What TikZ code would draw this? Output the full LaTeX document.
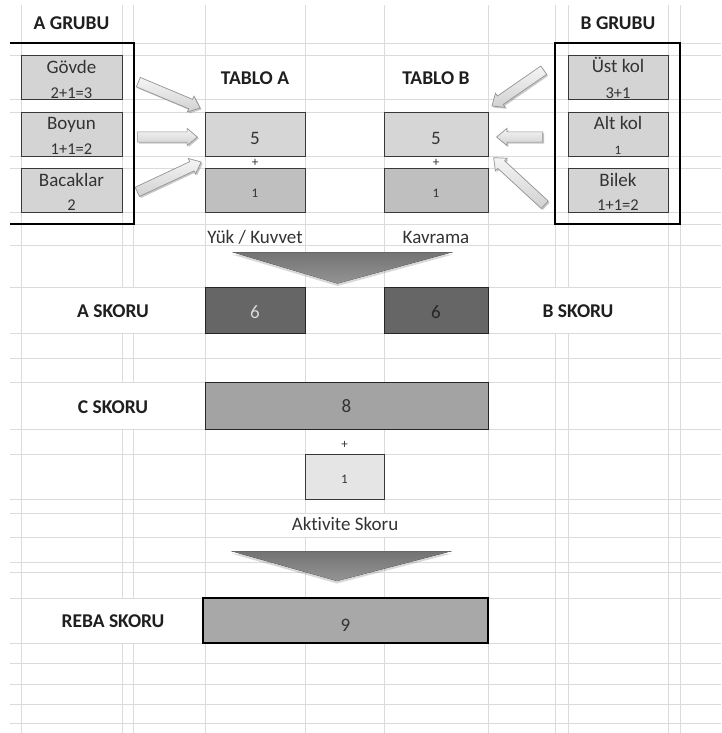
\documentclass[tikz,border=0pt]{standalone}
\usepackage{fontspec}
\setmainfont{Carlito}[Ligatures=CommonOff]
\usetikzlibrary{shapes.arrows,shadows}
\begin{document}
\begin{tikzpicture}[x=1pt,y=-1pt,
  grid/.style={draw=black!14, line width=0.9pt},
  lbl/.style={font=\fontsize{19.5}{21}\selectfont\bfseries, text=black!88, anchor=base, inner sep=0},
  txt/.style={font=\fontsize{19}{21}\selectfont, text=black!80, anchor=base, inner sep=0},
  sub/.style={font=\fontsize{16.5}{18}\selectfont, text=black!80, anchor=base, inner sep=0},
  small/.style={font=\fontsize{13}{14}\selectfont, text=black!80, anchor=base, inner sep=0},
  cell/.style={draw=black!78, line width=0.9pt, inner sep=0},
  grp/.style={draw=black, line width=2pt},
  barrow/.style={single arrow, draw=black!42, top color=black!4, bottom color=black!18,
    inner sep=0pt, minimum width=17pt, single arrow head extend=3.5pt,
    single arrow tip angle=80, line width=0.7pt, anchor=tail,
    drop shadow={shadow xshift=1.5pt, shadow yshift=-1.5pt, opacity=0.3, fill=black!70}},
  chev/.style={top color=black!55, bottom color=black!42, draw=none,
    drop shadow={shadow xshift=0pt, shadow yshift=-2.5pt, opacity=0.25, fill=black!60}},
]
\fill[white] (0,0) rectangle (721,733);
\useasboundingbox (0,0) rectangle (721,733);

% grid
\foreach \yy in {43,55,99,112,156,168,212,224,245,287,333,358,382.5,429,454,499,513,537,562,572,598,643,663,684,704,723}
  \draw[grid] (10,\yy) -- (721,\yy);
\foreach \xx in {21,122,133.5,205,305,384,488,555.5,568,668,680}
  \draw[grid] (\xx,5) -- (\xx,733);

% merged cells hiding grid lines
\fill[white] (21.5,287.5) rectangle (204.5,332.5);
\fill[white] (488.5,287.5) rectangle (667.5,332.5);
\fill[white] (21.5,383) rectangle (204.5,428.5);
\fill[white] (21.5,598.5) rectangle (202.5,642.5);
\fill[white] (205.5,513.5) rectangle (487.5,536.5);
\fill[white] (21.5,5) rectangle (121.5,42.5);
\fill[white] (568.5,5) rectangle (667.5,42.5);

% group frames
\draw[grp] (10,43) -- (133.5,43) -- (133.5,224) -- (10,224);
\node[grp, minimum width=124.5pt, minimum height=181pt, inner sep=0] (bgrp) at (617.25,133.5) {};

% A group boxes
\node[cell, fill=black!17, minimum width=101pt, minimum height=44pt] (govde) at (71.5,77) {};
\node[cell, fill=black!17, minimum width=101pt, minimum height=44pt] (boyun) at (71.5,134) {};
\node[cell, fill=black!17, minimum width=101pt, minimum height=44pt] (bacak) at (71.5,190) {};
% B group boxes
\node[cell, fill=black!17, minimum width=100pt, minimum height=44pt] (ustkol) at (618,77) {};
\node[cell, fill=black!17, minimum width=100pt, minimum height=44pt] (altkol) at (618,134) {};
\node[cell, fill=black!17, minimum width=100pt, minimum height=44pt] (bilek) at (618,190) {};
% tables
\node[cell, fill=black!16, minimum width=100pt, minimum height=44pt] (ta5) at (255,134) {};
\node[cell, fill=black!25, minimum width=100pt, minimum height=44pt] (ta1) at (255,190) {};
\node[cell, fill=black!16, minimum width=104pt, minimum height=44pt] (tb5) at (436,134) {};
\node[cell, fill=black!25, minimum width=104pt, minimum height=44pt] (tb1) at (436,190) {};
% scores
\node[cell, draw=black!85, fill=black!60, minimum width=100pt, minimum height=46pt] (as6) at (255,310) {};
\node[cell, draw=black!85, fill=black!60, minimum width=104pt, minimum height=46pt] (bs6) at (436,310) {};
\node[cell, draw=black!85, fill=black!36, minimum width=283pt, minimum height=46.5pt] (c8) at (346.5,405.75) {};
\node[cell, fill=black!10, minimum width=79pt, minimum height=45pt] (act1) at (344.5,476.5) {};
\node[cell, draw=black, line width=2pt, fill=black!34, minimum width=285pt, minimum height=45.5pt] (reba9) at (345.5,620.25) {};

% chevrons
\fill[chev] (232,252) -- (453,252) -- (337.5,283.5) -- cycle;
\draw[black!60, line width=1pt] (233,252.5) -- (452,252.5);
\fill[chev] (231,551) -- (452,551) -- (337,581) -- cycle;
\draw[black!60, line width=1pt] (232,551.5) -- (451,551.5);

% block arrows
\node[barrow, minimum height=67pt, rotate=-22.75] (aa1) at (138,82) {\rule{0pt}{9.5pt}};
\node[barrow, minimum height=60pt, rotate=0] (aa2) at (137,137) {\rule{0pt}{9.5pt}};
\node[barrow, minimum height=70.5pt, rotate=25.1] (aa3) at (137,192) {\rule{0pt}{9.5pt}};
\node[barrow, minimum height=63pt, rotate=-145.3] (ba1) at (544,70) {\rule{0pt}{9.5pt}};
\node[barrow, minimum height=46pt, rotate=180] (ba2) at (543,137) {\rule{0pt}{9.5pt}};
\node[barrow, minimum height=69.5pt, rotate=137.3] (ba3) at (545,205) {\rule{0pt}{9.5pt}};

% texts
\node[lbl] (tagr) at (71.5,29.5) {A GRUBU};
\node[lbl] (tbgr) at (618,29.5) {B GRUBU};
\node[lbl] (ttabA) at (255,85) {TABLO A};
\node[lbl] (ttabB) at (436,85) {TABLO B};

\node[txt] (tgov) at (71.5,74) {Gövde};
\node[sub] (tgovn) at (71.5,98.5) {2+1=3};
\node[txt] (tboy) at (71.5,130) {Boyun};
\node[sub] (tboyn) at (71.5,154.5) {1+1=2};
\node[txt] (tbac) at (71.5,186) {Bacaklar};
\node[sub] (tbacn) at (71.5,210.5) {2};

\node[txt] (tust) at (618,73) {Üst kol};
\node[sub] (tustn) at (618,98.5) {3+1};
\node[txt] (talt) at (618,130) {Alt kol};
\node[small] (taltn) at (618,154.5) {1};
\node[txt] (tbil) at (618,186) {Bilek};
\node[sub] (tbiln) at (618,210.5) {1+1=2};

\node[txt] (tta5) at (255,144.5) {5};
\node[small, anchor=center] (tplA) at (255,163) {+};
\node[small] (tta1) at (255,197) {1};
\node[txt] (ttb5) at (436,144.5) {5};
\node[small, anchor=center] (tplB) at (436,163) {+};
\node[small] (ttb1) at (436,197) {1};

\node[txt] (tyuk) at (255,243) {Yük / Kuvvet};
\node[txt] (tkav) at (436,243) {Kavrama};

\node[lbl] (taskor) at (113,317.5) {A SKORU};
\node[txt, text=black!15] (tas6) at (255,318.5) {6};
\node[txt, text=black!85] (tbs6) at (436,318.5) {6};
\node[lbl] (tbskor) at (578,317.5) {B SKORU};

\node[lbl] (tcskor) at (113,413) {C SKORU};
\node[txt] (tc8) at (346.5,412.5) {8};
\node[small, anchor=center] (tplC) at (344.5,444.5) {+};
\node[small] (tact1) at (344.5,483.5) {1};
\node[txt] (tact) at (345,530) {Aktivite Skoru};

\node[lbl] (treba) at (113,627.5) {REBA SKORU};
\node[txt] (tr9) at (345.5,631) {9};
\end{tikzpicture}
\end{document}
